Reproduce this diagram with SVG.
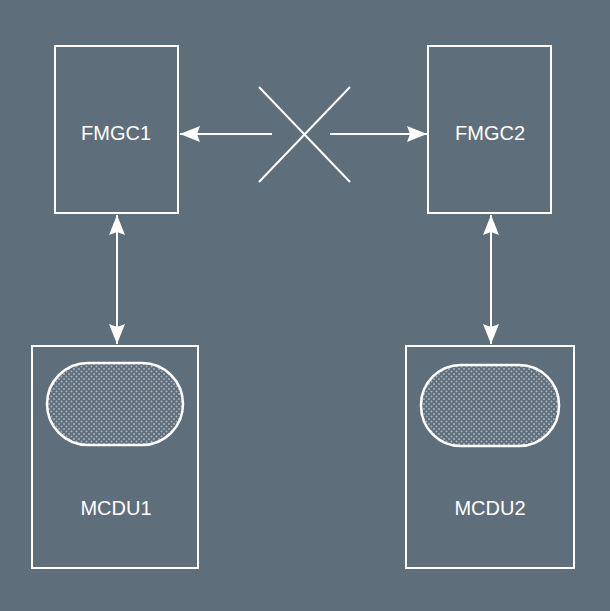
<svg xmlns="http://www.w3.org/2000/svg" width="610" height="611" viewBox="0 0 610 611">
<style>
.box{fill:none;stroke:#fff;stroke-width:2}
.lbl{font-family:"Liberation Sans",Arial,sans-serif;font-size:20px;fill:#fff;text-anchor:middle}
.ln{stroke:#fff;stroke-width:2;fill:none}
.scr{fill:url(#dots);stroke:#fff;stroke-width:2.5}
</style>
<defs>
<pattern id="dots" width="5" height="5" patternUnits="userSpaceOnUse">
<rect width="5" height="5" fill="#5f6e7b"/>
<circle cx="1.5" cy="1.5" r="1" fill="#a9b3bd"/>
<circle cx="4" cy="4" r="1" fill="#a9b3bd"/>
</pattern>
<marker id="ah" viewBox="0 0 20 16" refX="20" refY="8" markerWidth="20" markerHeight="16" markerUnits="userSpaceOnUse" orient="auto-start-reverse">
<path d="M0,0 L20,8 L0,16 L3,8 z" fill="#fff"/>
</marker>
</defs>
<rect width="610" height="611" fill="#5f6e7b"/>
<g id="fmgc1"><rect class="box" x="55" y="46" width="123" height="167"/><text class="lbl" x="116" y="140">FMGC1</text></g>
<g id="fmgc2"><rect class="box" x="428" y="46" width="123" height="167"/><text class="lbl" x="490" y="140">FMGC2</text></g>
<g id="mcdu1"><rect class="box" x="32" y="346" width="166" height="222"/><rect class="scr" x="47" y="363" width="136" height="82" rx="41"/><text class="lbl" x="116" y="515">MCDU1</text></g>
<g id="mcdu2"><rect class="box" x="406" y="346" width="168" height="222"/><rect class="scr" x="421" y="365" width="138" height="81" rx="40"/><text class="lbl" x="490" y="515">MCDU2</text></g>
<g id="connectors">
<line class="ln" x1="272" y1="134" x2="180" y2="134" marker-end="url(#ah)"/>
<line class="ln" x1="330" y1="134" x2="427" y2="134" marker-end="url(#ah)"/>
<line class="ln" x1="259" y1="87" x2="350" y2="182"/>
<line class="ln" x1="350" y1="87" x2="259" y2="182"/>
<line class="ln" x1="117" y1="215" x2="117" y2="344" marker-start="url(#ah)" marker-end="url(#ah)"/>
<line class="ln" x1="491" y1="215" x2="491" y2="344" marker-start="url(#ah)" marker-end="url(#ah)"/>
</g>
</svg>
